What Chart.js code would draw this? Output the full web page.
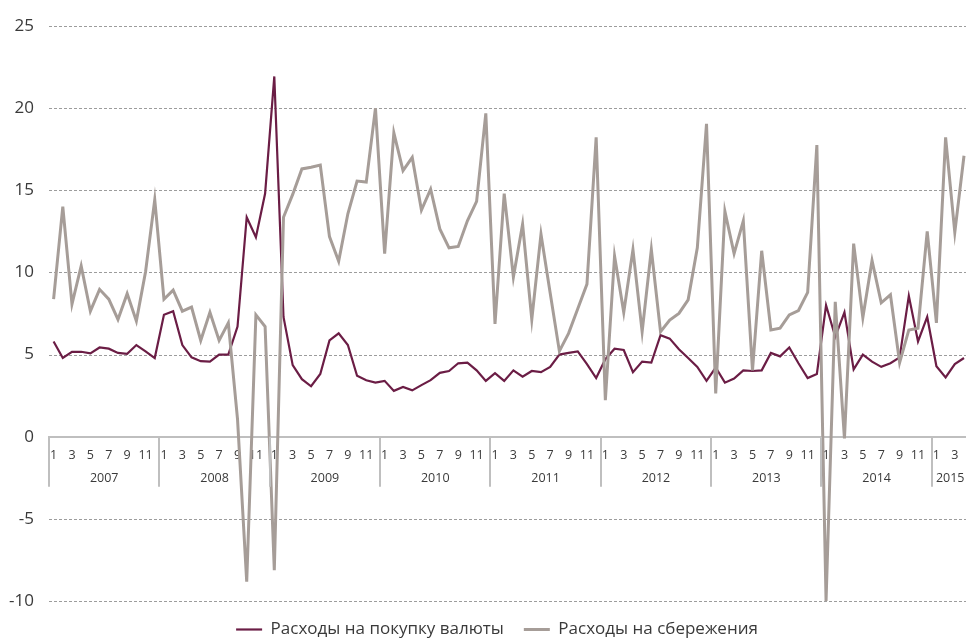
<!DOCTYPE html>
<html>
<head>
<meta charset="utf-8">
<script src="https://cdn.jsdelivr.net/npm/chart.js@4"></script>
<style>
html,body{margin:0;padding:0;background:#fff;overflow:hidden;width:966px;height:639px;}
canvas{display:block;}
</style>
</head>
<body>
<canvas id="c" width="975" height="648"></canvas>
<script>
// Month numbers for each point (Jan 2007 .. Apr 2015)
const years = ['2007','2008','2009','2010','2011','2012','2013','2014','2015'];
const monthsPerYear = [12,12,12,12,12,12,12,12,4];
const months = [];
years.forEach((y, k) => { for (let m = 1; m <= monthsPerYear[k]; m++) { months.push(String(m)); } });

const currencyLabel = 'Расходы на покупку валюты';
const savingsLabel = 'Расходы на сбережения';

const currency = [
  5.8, 4.79, 5.17, 5.17, 5.07, 5.43, 5.36, 5.1, 5.04, 5.58, 5.2, 4.79,
  7.42, 7.64, 5.58, 4.83, 4.6, 4.57, 5.0, 5.0, 6.7, 13.36, 12.14, 14.8,
  21.93, 7.29, 4.36, 3.5, 3.07, 3.82, 5.86, 6.29, 5.58, 3.71, 3.44, 3.29,
  3.4, 2.79, 3.03, 2.82, 3.14, 3.44, 3.89, 4.0, 4.47, 4.51, 4.04, 3.4,
  3.87, 3.4, 4.04, 3.65, 4.0, 3.93, 4.25, 5.0, 5.1, 5.19, 4.42, 3.57,
  4.72, 5.36, 5.28, 3.93, 4.57, 4.51, 6.18, 5.97, 5.32, 4.79, 4.25, 3.4,
  4.21, 3.29, 3.54, 4.04, 4.0, 4.04, 5.1, 4.89, 5.43, 4.47, 3.57, 3.82,
  8.0, 6.08, 7.57, 4.1, 5.0, 4.57, 4.25, 4.47, 4.83, 8.58, 5.8, 7.29,
  4.29, 3.61, 4.42, 4.79
];
const savings = [
  8.37, 14.0, 8.07, 10.4, 7.64, 8.97, 8.37, 7.14, 8.71, 7.04, 10.04, 14.43,
  8.37, 8.92, 7.64, 7.89, 5.86, 7.57, 5.86, 6.93, 1.07, -8.82, 7.42, 6.71,
  -8.13, 13.36, 14.75, 16.3, 16.4, 16.53, 12.18, 10.68, 13.57, 15.56, 15.5, 20.0,
  11.15, 18.5, 16.2, 17.0, 13.79, 15.07, 12.65, 11.5, 11.58, 13.14, 14.32, 19.68,
  6.87, 14.8, 9.72, 12.93, 7.14, 12.33, 8.75, 5.21, 6.29, 7.79, 9.29, 18.22,
  2.22, 11.0, 7.57, 11.39, 6.39, 11.39, 6.39, 7.1, 7.51, 8.33, 11.5, 19.05,
  2.64, 13.72, 11.15, 13.14, 4.04, 11.32, 6.5, 6.61, 7.42, 7.68, 8.79, 17.75,
  -10.0, 8.21, -0.1, 11.75, 7.25, 10.72, 8.15, 8.64, 4.51, 6.5, 6.61, 12.5,
  6.93, 18.22, 12.44, 17.1
];
const yMin = -10, yMax = 25, yStep = 5;

const PURPLE = '#6b1d45';
const GREY = '#a69d98';
const TEXT = '#3a3a3a';
const FONT = "'Open Sans', 'DejaVu Sans', sans-serif";

const decorPlugin = {
  id: 'decor',
  afterLayout(chart) {
    // nudge the bottom legend to be centred like the original
    if (chart.legend) { chart.legend.left += 19; }
  },
  beforeDatasetsDraw(chart) {
    // dashed horizontal gridlines at the y-scale ticks
    const ys = chart.scales.y, ca = chart.chartArea, ctx = chart.ctx;
    ctx.save();
    ctx.strokeStyle = '#9c9c9c';
    ctx.lineWidth = 1;
    ctx.setLineDash([3, 2]);
    ys.ticks.forEach(t => {
      if (t.value === 0) return;
      const y = Math.round(ys.getPixelForValue(t.value)) + 0.5;
      ctx.beginPath();
      ctx.moveTo(ca.left, y);
      ctx.lineTo(ca.right, y);
      ctx.stroke();
    });
    ctx.restore();
  },
  afterDraw(chart) {
    const xs = chart.scales.x, ys = chart.scales.y;
    const ctx = chart.ctx;
    const y0 = ys.getPixelForValue(0);
    const step = xs.getPixelForValue(1) - xs.getPixelForValue(0);
    ctx.save();
    ctx.strokeStyle = '#bfbfbf';
    ctx.lineWidth = 2;
    ctx.fillStyle = TEXT;
    ctx.font = "12.5px " + FONT;
    ctx.textAlign = 'center';
    ctx.textBaseline = 'middle';
    let start = 0;
    years.forEach((yr, k) => {
      const n = monthsPerYear[k];
      const xb = xs.getPixelForValue(start) - step / 2;
      ctx.beginPath();
      ctx.moveTo(Math.round(xb), y0);
      ctx.lineTo(Math.round(xb), y0 + 50);
      ctx.stroke();
      const xc = (xs.getPixelForValue(start) + xs.getPixelForValue(start + n - 1)) / 2;
      ctx.fillText(yr, xc, y0 + 42);
      start += n;
    });
    ctx.restore();
  }
};

new Chart(document.getElementById('c'), {
  type: 'line',
  data: {
    labels: months,
    datasets: [
      { label: savingsLabel, data: savings, borderColor: GREY, backgroundColor: GREY,
        borderWidth: 3, pointRadius: 0, pointStyle: 'line', tension: 0 },
      { label: currencyLabel, data: currency, borderColor: PURPLE, backgroundColor: PURPLE,
        borderWidth: 2.2, pointRadius: 0, pointStyle: 'line', tension: 0 }
    ]
  },
  options: {
    responsive: false,
    animation: false,
    devicePixelRatio: 1,
    layout: { padding: { left: 0, right: 0, top: 26, bottom: 0 } },
    plugins: {
      tooltip: { enabled: false },
      legend: {
        position: 'bottom',
        labels: {
          usePointStyle: true,
          pointStyleWidth: 26,
          boxHeight: 17,
          padding: 20,
          color: TEXT,
          font: { family: FONT, size: 17 },
          sort: (a, b) => b.datasetIndex - a.datasetIndex
        }
      }
    },
    scales: {
      x: {
        type: 'category',
        position: { y: 0 },
        offset: true,
        grid: { display: false, drawTicks: false },
        border: { display: true, color: '#bfbfbf', width: 2 },
        ticks: {
          autoSkip: false, maxRotation: 0, minRotation: 0, padding: 11,
          color: TEXT, font: { family: FONT, size: 12.5 },
          callback: function(v, i) { const m = months[i]; return (Number(m) % 2 === 1) ? m : ''; }
        }
      },
      y: {
        min: yMin, max: yMax,
        afterFit: (s) => { s.width = 49; },
        grid: { display: false, drawTicks: false },
        border: { display: false },
        ticks: { stepSize: yStep, padding: 15, color: TEXT, font: { family: FONT, size: 17 } }
      }
    }
  },
  plugins: [decorPlugin]
});
</script>
</body>
</html>
